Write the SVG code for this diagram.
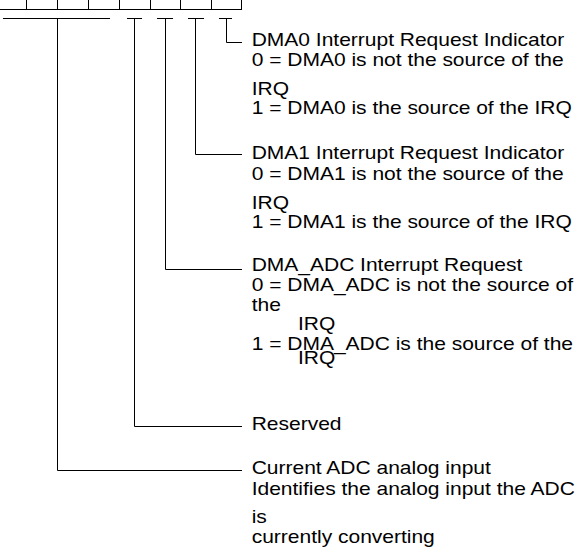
<svg xmlns="http://www.w3.org/2000/svg" width="582" height="547" viewBox="0 0 582 547">
<style>
.ln{stroke:#000;stroke-width:1;fill:none}
.t{font-family:"Liberation Sans",Arial,sans-serif;font-size:17.5px;fill:#000}
</style>
<rect width="582" height="547" fill="#fff"/>
<g id="register">
<path class="ln" d="M0 9.5H242M26.5 0V9.5M57.5 0V9.5M88.5 0V9.5M119.5 0V9.5M150.5 0V9.5M180.5 0V9.5M211.5 0V9.5M241.5 0V9.5"/>
</g>
<g id="connectors">
<path class="ln" d="M3 18.5H110M57.5 18.5V470.5H242"/>
<path class="ln" d="M127 18.5H142M134.5 18.5V426.5H242"/>
<path class="ln" d="M157 18.5H173M165.5 18.5V269.5H242"/>
<path class="ln" d="M188 18.5H204M195.5 18.5V154.5H242"/>
<path class="ln" d="M219 18.5H232M226.5 18.5V42.5H242"/>
</g>
<g id="dma0" transform="translate(251.7 0) scale(1.2 1)">
<text class="t" x="0" y="46">DMA0 Interrupt Request Indicator</text>
<text class="t" x="0" y="66">0 = DMA0 is not the source of the</text>
<text class="t" x="0" y="95">IRQ</text>
<text class="t" x="0" y="114">1 = DMA0 is the source of the IRQ</text>
</g>
<g id="dma1" transform="translate(251.7 0) scale(1.2 1)">
<text class="t" x="0" y="159.5">DMA1 Interrupt Request Indicator</text>
<text class="t" x="0" y="180">0 = DMA1 is not the source of the</text>
<text class="t" x="0" y="209">IRQ</text>
<text class="t" x="0" y="228">1 = DMA1 is the source of the IRQ</text>
</g>
<g id="dma_adc" transform="translate(251.7 0) scale(1.2 1)">
<text class="t" x="0" y="271">DMA_ADC Interrupt Request</text>
<text class="t" x="0" y="291.5">0 = DMA_ADC is not the source of</text>
<text class="t" x="0" y="311.5">the</text>
<text class="t" x="38.6" y="330">IRQ</text>
<text class="t" x="0" y="350">1 = DMA_ADC is the source of the</text>
<text class="t" x="38.6" y="364.5">IRQ</text>
</g>
<g id="reserved" transform="translate(251.7 0) scale(1.2 1)">
<text class="t" x="0" y="430">Reserved</text>
</g>
<g id="adc_input" transform="translate(251.7 0) scale(1.2 1)">
<text class="t" x="0" y="474">Current ADC analog input</text>
<text class="t" x="0" y="495">Identifies the analog input the ADC</text>
<text class="t" x="0" y="523">is</text>
<text class="t" x="0" y="543">currently converting</text>
</g>
</svg>
